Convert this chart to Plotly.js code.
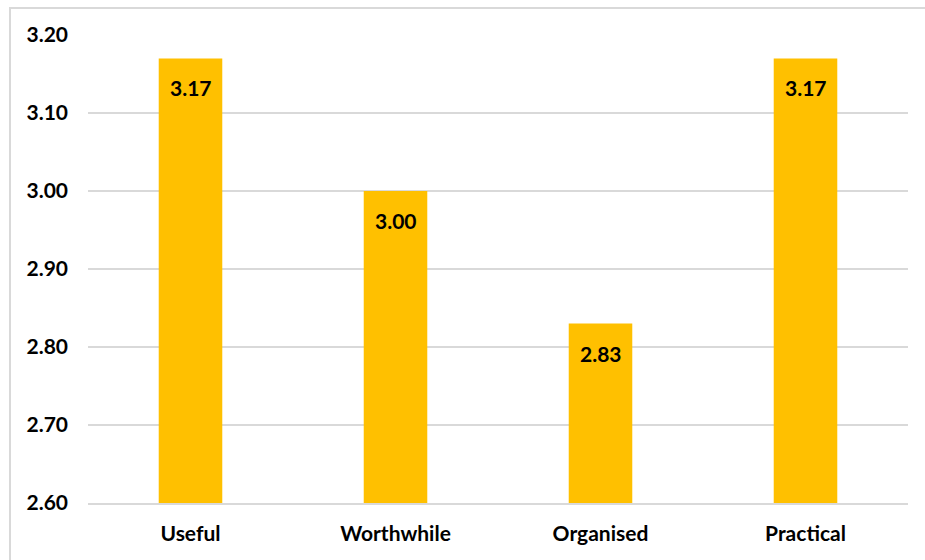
<!DOCTYPE html>
<html>
<head>
<meta charset="utf-8">
<script src="https://cdn.plot.ly/plotly-3.0.1.min.js"></script>
<style>
  html, body { margin: 0; padding: 0; background: #ffffff; overflow: hidden; }
  #frame {
    position: absolute; left: 9px; top: 7px; width: 940px; height: 580px;
    border: 2px solid #d9d9d9; box-sizing: border-box;
  }
  #chart { position: absolute; left: 0; top: 0; width: 925px; height: 560px; }
</style>
</head>
<body>
<div id="frame"></div>
<div id="chart"></div>
<script>
// Average rating per attribute
const categories = ['Useful', 'Worthwhile', 'Organised', 'Practical'];
const scores = [3.17, 3.00, 2.83, 3.17];

const FONT = 'Lato, "Open Sans", sans-serif';

const trace = {
  type: 'bar',
  x: categories,
  y: scores,
  marker: { color: '#FFC000', line: { width: 0 } },
  hoverinfo: 'x+y'
};

// Value labels placed just inside the top of each bar
const labels = categories.map((c, i) => ({
  x: c,
  y: scores[i],
  xref: 'x',
  yref: 'y',
  text: '<b>' + scores[i].toFixed(2) + '</b>',
  showarrow: false,
  yanchor: 'top',
  yshift: -15,
  font: { family: FONT, size: 21, color: '#000000' }
}));

const layout = {
  width: 925,
  height: 560,
  margin: { l: 88, r: 17, t: 35, b: 57 },
  paper_bgcolor: 'rgba(0,0,0,0)',
  plot_bgcolor: 'rgba(0,0,0,0)',
  bargap: 0.69,
  showlegend: false,
  font: { family: FONT, size: 21, color: '#000000' },
  xaxis: {
    type: 'category',
    showgrid: false,
    showline: true,
    linecolor: '#d9d9d9',
    linewidth: 1.5,
    zeroline: false,
    ticks: '',
    ticklabelstandoff: 11,
    tickfont: { family: FONT, size: 21, color: '#000000', weight: 'bold' }
  },
  yaxis: {
    range: [2.6, 3.2],
    dtick: 0.1,
    tick0: 2.6,
    tickformat: '.2f',
    showgrid: true,
    gridcolor: '#d9d9d9',
    gridwidth: 1.5,
    zeroline: false,
    showline: false,
    ticks: '',
    ticklabelstandoff: 19,
    tickfont: { family: FONT, size: 21, color: '#000000', weight: 'bold' }
  },
  annotations: labels
};

Plotly.newPlot('chart', [trace], layout, { displayModeBar: false, staticPlot: true });
</script>
</body>
</html>
